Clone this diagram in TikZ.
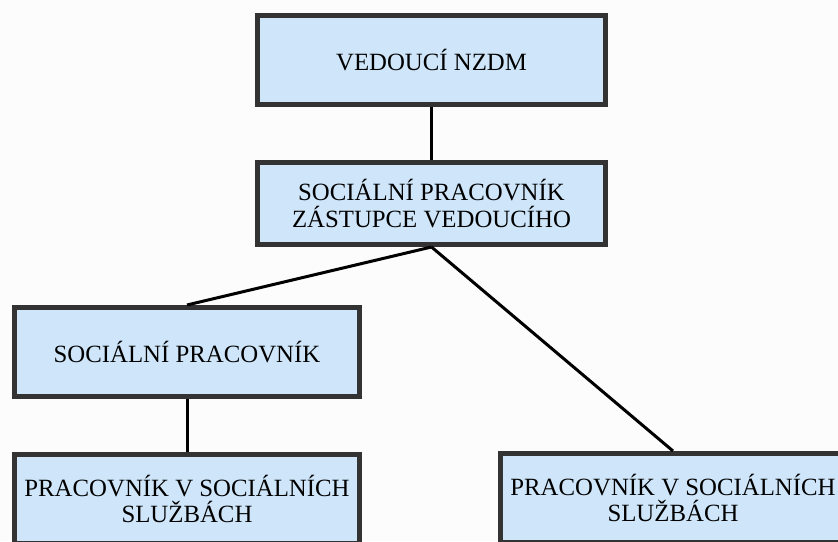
\documentclass[tikz,border=0pt]{standalone}
\usepackage{fontspec}
\setmainfont{Liberation Serif}
\definecolor{boxfill}{HTML}{CFE6FA}
\definecolor{boxline}{HTML}{333333}
\definecolor{pagebg}{HTML}{FCFCFC}
\tikzset{
  orgbox/.style={draw=boxline, fill=boxfill, line width=5pt, align=center,
    minimum width=345pt, minimum height=89pt, inner sep=0pt,
    font=\fontsize{24.8}{26.5}\selectfont},
  orgline/.style={draw=black, line width=3pt}
}
\begin{document}
\begin{tikzpicture}[x=1pt,y=1pt]

%draws background
\fill[pagebg] (0,0) rectangle (838,541);
\useasboundingbox (0,0) rectangle (838,541);

%draw boxes
\node[orgbox, minimum width=348pt] (head) at (431.5,481) {VEDOUC\'I NZDM};
\node[orgbox, minimum width=348pt, minimum height=82pt] (deputy) at (431.5,337.5) {SOCI\'ALN\'I PRACOVN\'IK\\Z\'ASTUPCE VEDOUC\'IHO};
\node[orgbox] (social) at (187,189) {SOCI\'ALN\'I PRACOVN\'IK};
\node[orgbox] (workerl) at (187,42) {PRACOVN\'IK V SOCI\'ALN\'ICH\\SLU\v{Z}B\'ACH};
\node[orgbox] (workerr) at (673,43) {PRACOVN\'IK V SOCI\'ALN\'ICH\\SLU\v{Z}B\'ACH};

%draw connectors
\draw[orgline] (head.south) -- (deputy.north);
\draw[orgline] (deputy.south) -- (social.north);
\draw[orgline] (deputy.south) -- (workerr.north);
\draw[orgline] (social.south) -- (workerl.north);
\end{tikzpicture}
\end{document}
